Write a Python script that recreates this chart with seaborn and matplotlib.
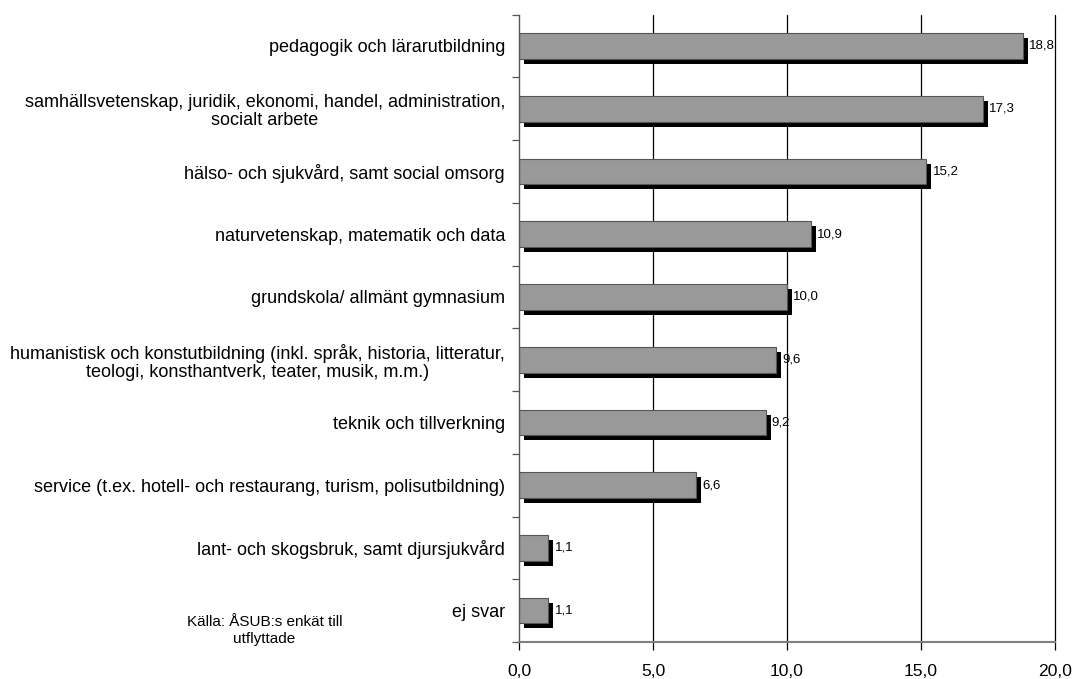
import matplotlib
matplotlib.use("Agg")
import matplotlib.pyplot as plt
import matplotlib.patheffects as pe
import pandas as pd
import seaborn as sns

# DATA
categories = [
    "pedagogik och lärarutbildning",
    "samhällsvetenskap, juridik, ekonomi, handel, administration,\nsocialt arbete",
    "hälso- och sjukvård, samt social omsorg",
    "naturvetenskap, matematik och data",
    "grundskola/ allmänt gymnasium",
    "humanistisk och konstutbildning (inkl. språk, historia, litteratur,\nteologi, konsthantverk, teater, musik, m.m.)",
    "teknik och tillverkning",
    "service (t.ex. hotell- och restaurang, turism, polisutbildning)",
    "lant- och skogsbruk, samt djursjukvård",
    "ej svar",
]
values = [18.8, 17.3, 15.2, 10.9, 10.0, 9.6, 9.2, 6.6, 1.1, 1.1]
xticks = [0, 5, 10, 15, 20]
source_note = "Källa: ÅSUB:s enkät till\nutflyttade"

df = pd.DataFrame({"kategori": categories, "andel": values})

sns.set_style("white")
plt.rcParams["font.family"] = ["Liberation Sans", "DejaVu Sans"]
plt.rcParams["text.color"] = "black"

fig = plt.figure(figsize=(10.75, 6.79), dpi=100)
ax = fig.add_axes([0.4828, 0.0545, 0.4986, 0.924])

# vertical gridlines (the one at 20 closes the plot on the right)
for x in xticks[1:]:
    ax.axvline(x, color="black", lw=0.9, zorder=0, clip_on=False)

sns.barplot(data=df, y="kategori", x="andel", orient="h", color="#999999",
            saturation=1, width=0.41, edgecolor="#555555", linewidth=0.8, ax=ax)

# black drop shadow like the original
for bar in ax.patches:
    bar.set_path_effects([pe.SimplePatchShadow(offset=(3.6, -3.6), shadow_rgbFace="black", alpha=1.0),
                          pe.Normal()])

ax.bar_label(ax.containers[0], labels=[f"{v:.1f}".replace(".", ",") for v in values],
             padding=4.5, fontsize=9.5, color="black")

ax.set_xlim(0, 20)
ax.set_ylim(9.5, -0.5)
ax.set_xticks(xticks)
ax.set_xticklabels([f"{x:.1f}".replace(".", ",") for x in xticks], fontsize=12.6)
ax.tick_params(axis="x", direction="out", length=5.5, width=0.9, color="black",
               labelcolor="black", pad=10, bottom=True)

ax.set_yticks(range(len(categories)))
ax.set_yticklabels(categories, fontsize=13.0, multialignment="center", linespacing=1.12)
ax.set_yticks([i - 0.5 for i in range(len(categories) + 1)], minor=True)
ax.tick_params(axis="y", which="major", length=0, pad=10, labelcolor="black")
ax.tick_params(axis="y", which="minor", direction="out", length=5, width=0.9, color="#555555", left=True)

ax.set_xlabel("")
ax.set_ylabel("")
for s in ["top", "right"]:
    ax.spines[s].set_visible(False)
ax.spines["left"].set_color("#555555")
ax.spines["bottom"].set_color("#808080")
ax.spines["left"].set_linewidth(1.0)
ax.spines["bottom"].set_linewidth(1.5)

fig.text(0.246, 0.071, source_note, ha="center", va="center", fontsize=11, linespacing=1.3)

fig.savefig("out.png", dpi=100)
